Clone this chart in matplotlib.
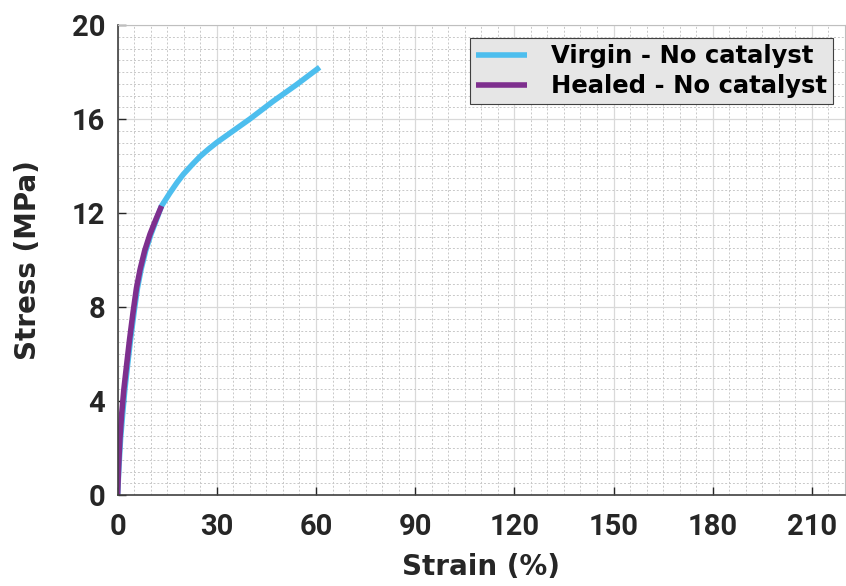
import matplotlib
matplotlib.use("Agg")
import matplotlib.pyplot as plt
from matplotlib.ticker import MultipleLocator

virgin_strain = [0, 0.4, 0.9, 1.5, 2.2, 3.0, 3.9, 5.0, 6.0, 7.1, 8.5, 10.1, 11.7, 13.3,
                 15.8, 18.0, 19.9, 22.5, 24.9, 27.5, 30.0, 35.0, 40.0, 47.0, 54.0, 61.1]
virgin_stress = [0, 1.2, 2.4, 3.4, 4.5, 5.5, 6.6, 7.8, 8.8, 9.6, 10.4, 11.1, 11.7, 12.3,
                 12.85, 13.3, 13.65, 14.05, 14.4, 14.72, 15.0, 15.5, 16.0, 16.75, 17.45, 18.2]
healed_strain = [0, 0.3, 0.7, 1.2, 1.9, 2.7, 3.6, 4.7, 5.7, 6.8, 8.2, 9.8, 11.5, 13.3]
healed_stress = [0, 1.2, 2.4, 3.4, 4.5, 5.5, 6.6, 7.8, 8.8, 9.6, 10.4, 11.1, 11.7, 12.3]

xticks = [0, 30, 60, 90, 120, 150, 180, 210]
yticks = [0, 4, 8, 12, 16, 20]

plt.rcParams['font.family'] = ['Roboto', 'DejaVu Sans']
fig = plt.figure(figsize=(8.46, 5.86), dpi=100)
ax = fig.add_axes([117.6/846, 1 - 495/586, (845 - 117.6)/846, (495 - 25)/586])

ax.plot(virgin_strain, virgin_stress, color='#4DBEEE', lw=4, label='Virgin - No catalyst', solid_capstyle='butt')
ax.plot(healed_strain, healed_stress, color='#7E2F8E', lw=4, label='Healed - No catalyst', solid_capstyle='butt')

ax.set_xlim(0, 220)
ax.set_ylim(0, 20)
ax.set_xticks(xticks)
ax.set_yticks(yticks)
ax.xaxis.set_minor_locator(MultipleLocator(5))
ax.yaxis.set_minor_locator(MultipleLocator(0.5))
ax.grid(which='major', color='#d9d9d9', lw=0.9, ls='-')
ax.grid(which='minor', color='#c8c8c8', lw=0.7, ls=(0, (2, 2)))
ax.set_axisbelow(True)
ax.tick_params(which='major', direction='in', length=6, width=1, colors='#262626', labelsize=21)
ax.tick_params(axis='x', which='major', pad=13)
ax.tick_params(axis='y', which='major', pad=9)
ax.tick_params(which='minor', length=0)
for lab in ax.get_xticklabels() + ax.get_yticklabels():
    lab.set_fontweight('bold')
for s in ['left', 'bottom']:
    ax.spines[s].set_color('#404040')
    ax.spines[s].set_linewidth(1.2)
for s in ['top', 'right']:
    ax.spines[s].set_color('#bfbfbf')
    ax.spines[s].set_linewidth(0.8)

lab_font = {'family': 'DejaVu Sans', 'size': 20, 'weight': 'bold'}
ax.set_xlabel('Strain (%)', fontdict=lab_font, color='#262626')
ax.set_ylabel('Stress (MPa)', fontdict=lab_font, color='#262626')
ax.xaxis.set_label_coords(0.5, -(567 - 495) / 470, transform=ax.transAxes)
ax.yaxis.set_label_coords(-(117.6 - 27.5) / 727.4, 0.5, transform=ax.transAxes)
ax.xaxis.label.set_va('center')
ax.yaxis.label.set_va('center')

leg = ax.legend(loc='upper right', bbox_to_anchor=((833 - 117.6) / 727.4, (495 - 38) / 470),
                prop={'family': 'DejaVu Sans', 'weight': 'bold', 'size': 17.5},
                frameon=True, fancybox=False, edgecolor='#404040', facecolor='#e6e6e6', framealpha=1,
                handlelength=2.1, handletextpad=1.0, borderpad=0.25, labelspacing=0.25, borderaxespad=0)
leg.get_frame().set_linewidth(0.8)

fig.savefig('out.png', dpi=100)
